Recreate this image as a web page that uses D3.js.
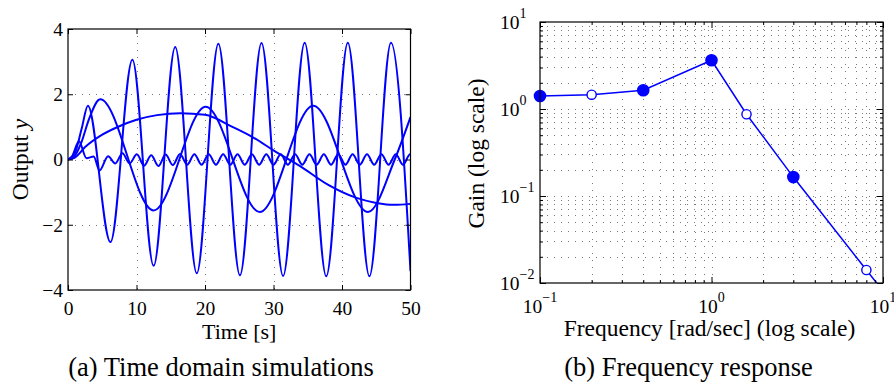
<!DOCTYPE html>
<html>
<head>
<meta charset="utf-8">
<script src="https://cdn.jsdelivr.net/npm/d3@7"></script>
<style>
  body { margin: 0; background: #fff; }
  svg { display: block; }
  text { font-family: 'Liberation Serif', 'Times New Roman', serif; fill: #000; }
</style>
</head>
<body>
<svg id="fig" width="894" height="387"></svg>
<script>
// ---- panel (a): time responses (extrema + a few points)
const timeTicks = [0, 10, 20, 30, 40, 50]
const outTicks = [-4, -2, 0, 2, 4]

// input at 1 rad/s
const t1 = [0, 1, 2, 2.9, 6.2, 9.4, 12.5, 15.65, 18.8, 21.95, 25.1, 28.25, 31.4, 34.55, 37.7, 40.85, 44.0, 47.15, 50]
const y1 = [0, 0.2, 0.95, 1.65, -2.53, 3.06, -3.26, 3.45, -3.49, 3.55, -3.55, 3.57, -3.57, 3.58, -3.58, 3.58, -3.58, 3.58, -3.42]

// input at 0.4 rad/s
const t2 = [0, 1, 2, 3, 4.7, 12.5, 20.1, 28.0, 35.8, 43.8, 47.7, 50]
const y2 = [0, 0.12, 0.55, 1.2, 1.85, -1.56, 1.62, -1.61, 1.65, -1.61, 0, 1.3]

// input at 0.1 rad/s
const t3 = [0, 1, 2.5, 5, 7.5, 10, 13, 16.4, 20, 24, 27, 30, 34, 38, 42, 45, 47.6, 50]
const y3 = [0, 0.06, 0.38, 0.76, 1.02, 1.22, 1.36, 1.42, 1.37, 1.0, 0.68, 0.28, -0.22, -0.78, -1.17, -1.33, -1.39, -1.36]

// input at 3 rad/s
const t4 = [0, 0.6, 1.6, 2.7, 3.75, 4.6, 5.85, 6.9, 7.95, 9.0, 10.05, 11.1, 12.15, 13.2, 14.25, 15.3,
  16.35, 17.4, 18.45, 19.5, 20.55, 21.6, 22.65, 23.7, 24.75, 25.8, 26.85, 27.9, 28.95, 30.0, 31.05,
  32.1, 33.15, 34.2, 35.25, 36.3, 37.35, 38.4, 39.45, 40.5, 41.55, 42.6, 43.65, 44.7, 45.75, 46.8,
  47.85, 48.9, 49.95, 50]
const y4 = [0, 0.1, 0.56, 0.04, 0.09, -0.34, 0.1, -0.12, 0.19, -0.12, 0.16, -0.19, 0.13, -0.2, 0.15, -0.17,
  0.17, -0.16, 0.16, -0.16, 0.16, -0.16, 0.16, -0.16, 0.16, -0.16, 0.16, -0.16, 0.16, -0.16, 0.16,
  -0.16, 0.16, -0.16, 0.16, -0.16, 0.16, -0.16, 0.16, -0.16, 0.16, -0.16, 0.16, -0.16, 0.16, -0.16,
  0.16, -0.16, 0.16, 0.16]

// ---- panel (b): gain vs frequency
const freqs = [0.1, 0.2, 0.4, 1, 1.6, 3, 8, 10]
const gains = [1.41, 1.46, 1.64, 3.63, 0.87, 0.165, 0.0141, 0.0081]
// marker style per point: 1 filled, 0 open, null no marker
const filled = [1, 0, 1, 1, 0, 1, 0, null]
const freqTickExps = [-1, 0, 1]
const gainTickExps = [-2, -1, 0, 1]

const blue = '#0000ff'
const gridColor = '#7a7a7a'
const svg = d3.select('#fig')

const minus = v => (v < 0 ? '\u2212' + (-v) : String(v))
const crisp = v => Math.round(v) + 0.5

// ================= panel (a)
const xA = d3.scaleLinear().domain([0, 50]).range([68, 410.5])
const yA = d3.scaleLinear().domain([-4, 4]).range([290, 29])
const gA = svg.append('g')

gA.append('clipPath').attr('id', 'clipA')
  .append('rect')
  .attr('x', xA(0)).attr('y', yA(4))
  .attr('width', xA(50) - xA(0)).attr('height', yA(-4) - yA(4))

gA.append('g').selectAll('line')
  .data(timeTicks.slice(1, -1))
  .join('line')
  .attr('x1', d => crisp(xA(d))).attr('x2', d => crisp(xA(d)))
  .attr('y1', yA(4)).attr('y2', yA(-4))
  .attr('stroke', gridColor).attr('stroke-width', 1)
  .attr('stroke-dasharray', '1,6')

gA.append('g').selectAll('line')
  .data(outTicks.slice(1, -1))
  .join('line')
  .attr('x1', xA(0)).attr('x2', xA(50))
  .attr('y1', d => crisp(yA(d))).attr('y2', d => crisp(yA(d)))
  .attr('stroke', gridColor).attr('stroke-width', 1)
  .attr('stroke-dasharray', '1,6')

const lineA = d3.line()
  .x(d => xA(d[0]))
  .y(d => yA(d[1]))
  .curve(d3.curveMonotoneX)

gA.append('g').attr('clip-path', 'url(#clipA)')
  .selectAll('path')
  .data([[t3, y3], [t2, y2], [t1, y1], [t4, y4]])
  .join('path')
  .attr('d', ([t, y]) => lineA(d3.zip(t, y)))
  .attr('fill', 'none')
  .attr('stroke', blue)
  .attr('stroke-width', 2)

const tickStyle = g => {
  g.select('.domain').remove()
  g.selectAll('line').attr('stroke', '#000').attr('stroke-width', 1)
  g.attr('font-family', null).attr('font-size', 19.5)
}

gA.append('g').attr('transform', `translate(0,${yA(-4)})`)
  .call(d3.axisBottom(xA).tickValues(timeTicks).tickSizeInner(-5).tickSizeOuter(0).tickPadding(11))
  .call(tickStyle)
gA.append('g').attr('transform', `translate(0,${yA(4)})`)
  .call(d3.axisTop(xA).tickValues(timeTicks).tickSizeInner(-5).tickSizeOuter(0).tickFormat(''))
  .call(tickStyle)
gA.append('g').attr('transform', `translate(${xA(0)},0)`)
  .call(d3.axisLeft(yA).tickValues(outTicks).tickSizeInner(-5).tickSizeOuter(0).tickPadding(5).tickFormat(minus))
  .call(tickStyle)
gA.append('g').attr('transform', `translate(${xA(50)},0)`)
  .call(d3.axisRight(yA).tickValues(outTicks).tickSizeInner(-5).tickSizeOuter(0).tickFormat(''))
  .call(tickStyle)

gA.append('rect')
  .attr('x', xA(0)).attr('y', yA(4))
  .attr('width', xA(50) - xA(0)).attr('height', yA(-4) - yA(4))
  .attr('fill', 'none').attr('stroke', '#000').attr('stroke-width', 1.2)

gA.append('text')
  .attr('x', (xA(0) + xA(50)) / 2).attr('y', 339)
  .attr('text-anchor', 'middle').attr('font-size', 22)
  .text('Time [s]')

const outLabel = gA.append('text')
  .attr('transform', `translate(27.5,${yA(0)}) rotate(-90)`)
  .attr('text-anchor', 'middle').attr('font-size', 23.5)
outLabel.append('tspan').text('Output ')
outLabel.append('tspan').attr('font-style', 'italic').text('y')

gA.append('text')
  .attr('x', 221).attr('y', 376)
  .attr('text-anchor', 'middle').attr('font-size', 26.5)
  .text('(a) Time domain simulations')

// ================= panel (b)
const xB = d3.scaleLog().domain([0.1, 10]).range([540, 883])
const yB = d3.scaleLog().domain([0.01, 10]).range([283, 22])
const gB = svg.append('g')

gB.append('clipPath').attr('id', 'clipB')
  .append('rect')
  .attr('x', xB(0.1)).attr('y', yB(10))
  .attr('width', xB(10) - xB(0.1)).attr('height', yB(0.01) - yB(10))

const xGrid = xB.ticks().filter(d => d > 0.1 && d < 10)
const yGrid = yB.ticks().filter(d => d > 0.01 && d < 10)

gB.append('g').selectAll('line')
  .data(xGrid)
  .join('line')
  .attr('x1', d => crisp(xB(d))).attr('x2', d => crisp(xB(d)))
  .attr('y1', yB(10)).attr('y2', yB(0.01))
  .attr('stroke', gridColor).attr('stroke-width', 1)
  .attr('stroke-dasharray', '1,6')

gB.append('g').selectAll('line')
  .data(yGrid)
  .join('line')
  .attr('x1', xB(0.1)).attr('x2', xB(10))
  .attr('y1', d => crisp(yB(d))).attr('y2', d => crisp(yB(d)))
  .attr('stroke', gridColor).attr('stroke-width', 1)
  .attr('stroke-dasharray', '1,6')

const pts = freqs.map((f, i) => ({ f, g: gains[i], filled: filled[i] }))

gB.append('path')
  .attr('clip-path', 'url(#clipB)')
  .attr('d', d3.line().x(d => xB(d.f)).y(d => yB(d.g))(pts))
  .attr('fill', 'none')
  .attr('stroke', blue)
  .attr('stroke-width', 1.5)

gB.append('g').selectAll('circle')
  .data(pts.filter(d => d.filled !== null))
  .join('circle')
  .attr('cx', d => xB(d.f))
  .attr('cy', d => yB(d.g))
  .attr('r', d => (d.filled ? 5.6 : 4.6))
  .attr('fill', d => (d.filled ? blue : '#fff'))
  .attr('stroke', blue)
  .attr('stroke-width', 1.4)

const majorX = freqTickExps.map(e => 10 ** e)
const majorY = gainTickExps.map(e => 10 ** e)
const minorX = xB.ticks().filter(d => !majorX.some(m => Math.abs(m - d) < 1e-9))
const minorY = yB.ticks().filter(d => !majorY.some(m => Math.abs(m - d) < 1e-9))

const addTicks = (axisFn, scale, vals, size, tr) => {
  gB.append('g').attr('transform', tr)
    .call(axisFn(scale).tickValues(vals).tickSizeInner(-size).tickSizeOuter(0).tickFormat(''))
    .call(tickStyle)
}
addTicks(d3.axisBottom, xB, minorX, 3, `translate(0,${yB(0.01)})`)
addTicks(d3.axisBottom, xB, majorX, 6, `translate(0,${yB(0.01)})`)
addTicks(d3.axisTop, xB, minorX, 3, `translate(0,${yB(10)})`)
addTicks(d3.axisTop, xB, majorX, 6, `translate(0,${yB(10)})`)
addTicks(d3.axisLeft, yB, minorY, 3, `translate(${xB(0.1)},0)`)
addTicks(d3.axisLeft, yB, majorY, 6, `translate(${xB(0.1)},0)`)
addTicks(d3.axisRight, yB, minorY, 3, `translate(${xB(10)},0)`)
addTicks(d3.axisRight, yB, majorY, 6, `translate(${xB(10)},0)`)

gB.append('rect')
  .attr('x', xB(0.1)).attr('y', yB(10))
  .attr('width', xB(10) - xB(0.1)).attr('height', yB(0.01) - yB(10))
  .attr('fill', 'none').attr('stroke', '#000').attr('stroke-width', 1.2)

const powerLabel = (sel, e) => {
  sel.append('tspan').text('10')
  sel.append('tspan').attr('dy', -11).attr('font-size', 14).text(minus(e))
}

gB.append('g').selectAll('text')
  .data(freqTickExps)
  .join('text')
  .attr('x', e => xB(10 ** e))
  .attr('y', yB(0.01) + 30)
  .attr('text-anchor', 'middle')
  .attr('font-size', 19.5)
  .each(function (e) { powerLabel(d3.select(this), e) })

gB.append('g').selectAll('text')
  .data(gainTickExps)
  .join('text')
  .attr('x', 500)
  .attr('y', e => yB(10 ** e) + 7)
  .attr('font-size', 19.5)
  .each(function (e) { powerLabel(d3.select(this), e) })

gB.append('text')
  .attr('x', 709.5).attr('y', 336)
  .attr('text-anchor', 'middle').attr('font-size', 23.5)
  .text('Frequency [rad/sec] (log scale)')

gB.append('text')
  .attr('transform', `translate(484,153.5) rotate(-90)`)
  .attr('text-anchor', 'middle').attr('font-size', 23.5)
  .text('Gain (log scale)')

gB.append('text')
  .attr('x', 688.5).attr('y', 376)
  .attr('text-anchor', 'middle').attr('font-size', 26.5)
  .text('(b) Frequency response')
</script>
</body>
</html>
